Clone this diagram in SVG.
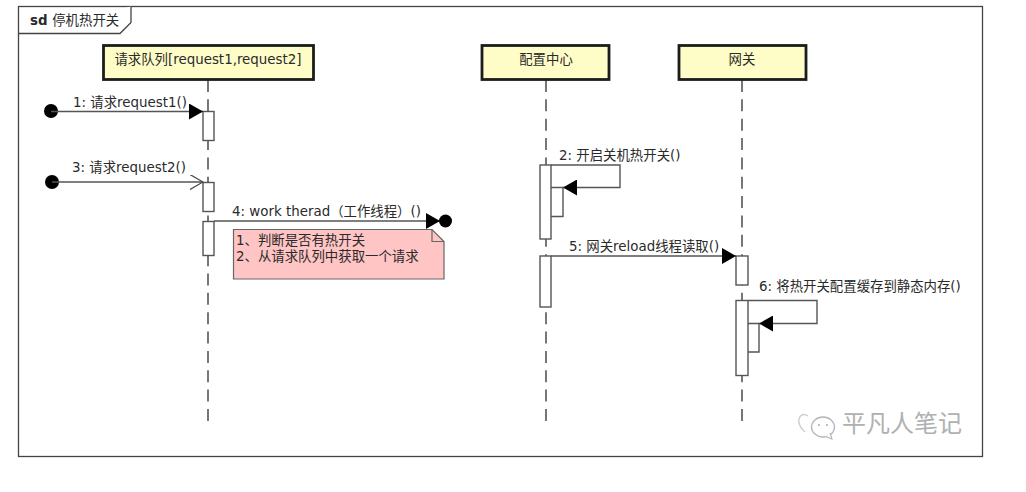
<svg xmlns="http://www.w3.org/2000/svg" width="1026" height="492" viewBox="0 0 1026 492">
<style>
text{font-family:"DejaVu Sans","Noto Sans CJK SC",sans-serif;font-size:13.400px;fill:#2a2a2a}
.head{fill:#fefdc8;stroke:#1c1c1c;stroke-width:2.8}
.life{stroke:#555;stroke-width:1.600;stroke-dasharray:12 7.350;fill:none}
.act{fill:#fff;stroke:#555;stroke-width:1.400}
.line{fill:none;stroke:#555;stroke-width:1.400}
.c{text-anchor:middle}
</style>
<defs>
<marker id="solid" viewBox="0 0 14 16" refX="14" refY="8" markerUnits="userSpaceOnUse" markerWidth="14" markerHeight="16" orient="auto"><path d="M0 0L14 8L0 16Z" fill="#000"/></marker>
<marker id="open" viewBox="0 0 14 16" refX="13" refY="7.500" markerUnits="userSpaceOnUse" markerWidth="14" markerHeight="16" orient="auto"><path d="M0 0L13 7.500L0 15" fill="none" stroke="#444" stroke-width="1.200"/></marker>
</defs>
<rect width="1026" height="492" fill="#fff"/>
<g id="frame">
<rect x="18.500" y="6.500" width="964" height="450" fill="#fff" stroke="#444" stroke-width="1.300"/>
<path d="M18.500 33.500H120L131 22.500V6.500" fill="#fff" stroke="#444" stroke-width="1.300"/>
<text x="30" y="25" font-weight="bold">sd <tspan font-weight="normal">停机热开关</tspan></text>
</g>
<g id="lifelines">
<path class="life" d="M208 80V421"/>
<path class="life" d="M546 80V421"/>
<path class="life" d="M742 80V421"/>
</g>
<g id="node-queue">
<rect class="head" x="103.500" y="45.500" width="210" height="34"/>
<text class="c" x="208" y="63.500">请求队列[request1,request2]</text>
</g>
<g id="node-config">
<rect class="head" x="482" y="45.500" width="127" height="34"/>
<text class="c" x="546" y="63.500">配置中心</text>
</g>
<g id="node-gateway">
<rect class="head" x="679" y="45.500" width="127" height="34"/>
<text class="c" x="742" y="63.500">网关</text>
</g>
<g id="activations">
<rect class="act" x="203" y="111.500" width="11" height="29"/>
<rect class="act" x="203" y="182.500" width="11" height="29"/>
<rect class="act" x="203" y="221.500" width="11" height="34"/>
<rect class="act" x="540" y="165" width="11" height="74"/>
<rect class="act" x="540" y="256" width="11" height="51"/>
<rect class="act" x="736" y="256" width="12" height="29"/>
<rect class="act" x="736" y="300.500" width="12" height="75"/>
</g>
<g id="connectors">
<circle cx="51" cy="111" r="7" fill="#000"/>
<path class="line" d="M51 111.500H203" marker-end="url(#solid)"/>
<circle cx="52" cy="182" r="7" fill="#000"/>
<path class="line" d="M52 182H203" marker-end="url(#open)"/>
<path class="line" d="M214 221H440" marker-end="url(#solid)"/>
<circle cx="445.500" cy="221" r="6.500" fill="#000"/>
<path class="line" d="M551 165H620V187.500H563" marker-end="url(#solid)"/>
<path class="line" d="M551 187.500H563V216.500H551"/>
<path class="line" d="M551 256H736" marker-end="url(#solid)"/>
<path class="line" d="M748 300.500H817V323.500H759" marker-end="url(#solid)"/>
<path class="line" d="M748 323.500H759V352H748"/>
</g>
<g id="labels">
<text x="73" y="107">1: 请求request1()</text>
<text x="72" y="172">3: 请求request2()</text>
<text x="232" y="216">4: work therad（工作线程）()</text>
<text x="559" y="160">2: 开启关机热开关()</text>
<text x="569" y="251">5: 网关reload线程读取()</text>
<text x="759" y="291">6: 将热开关配置缓存到静态内存()</text>
</g>
<g id="note">
<path d="M233.500 229.500H432L444 241.500V279H233.500Z" fill="#ffc4c4" stroke="#666" stroke-width="1.200"/>
<path d="M432 229.500V241.500H444" fill="none" stroke="#666" stroke-width="1.200"/>
<text x="236" y="244.500">1、判断是否有热开关</text>
<text x="236" y="261">2、从请求队列中获取一个请求</text>
</g>
<g id="watermark">
<path d="M808 416C802 412 798 417 799 423C800 428 803 430 805 432" fill="none" stroke="#ccc" stroke-width="1.300"/>
<ellipse cx="823" cy="427" rx="11.500" ry="10" fill="#fff" stroke="#b5b5b5" stroke-width="1.300"/>
<path d="M826 436.500L832 439L830 433" fill="#fff" stroke="#b5b5b5" stroke-width="1.100"/>
<circle cx="819" cy="425" r="1" fill="#aaa"/>
<circle cx="827" cy="425" r="1" fill="#aaa"/>
<text x="842" y="432" style="font-family:'Noto Sans CJK SC',sans-serif;font-size:24px;fill:#b0b0b0">平凡人笔记</text>
</g>
</svg>
